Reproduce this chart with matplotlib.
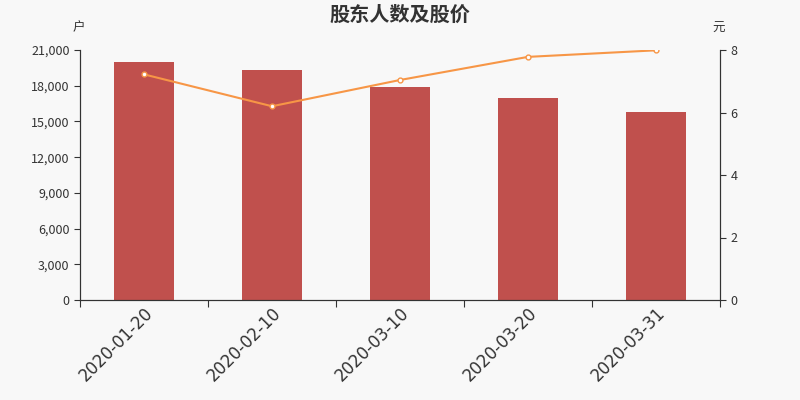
import matplotlib
matplotlib.use("Agg")
import matplotlib.pyplot as plt
import numpy as np
from matplotlib.ticker import FuncFormatter

plt.rcParams['font.family'] = ['Noto Sans CJK SC', 'DejaVu Sans']

dates = ["2020-01-20", "2020-02-10", "2020-03-10", "2020-03-20", "2020-03-31"]
holders = [19950, 19290, 17890, 16940, 15820]
price = [7.22, 6.20, 7.04, 7.78, 7.99]

bg = '#f8f8f8'
text_c = '#333333'

fig = plt.figure(figsize=(8, 4), dpi=100, facecolor=bg)
ax = fig.add_axes([0.1, 0.25, 0.8, 0.625])
ax.set_facecolor(bg)
ax2 = ax.twinx()

x = np.arange(len(dates))
ax.bar(x, holders, width=0.47, color='#c0504d', zorder=2)
ax.set_xlim(-0.5, len(dates) - 0.5)
ax.set_ylim(0, 21000)
ax.set_yticks(np.arange(0, 21001, 3000))
ax.yaxis.set_major_formatter(FuncFormatter(lambda v, p: f"{int(v):,}"))

# ticks sit between the bars, labels at bar centres
ax.set_xticks(np.arange(-0.5, len(dates), 1.0))
ax.set_xticklabels([])
ax.set_xticks(x, minor=True)
ax.set_xticklabels(dates, minor=True, rotation=45, ha='right',
                   rotation_mode='anchor', fontsize=12, color=text_c,
                   family='DejaVu Sans')
ax.tick_params(axis='x', which='minor', length=0, pad=3)
ax.tick_params(axis='x', which='major', length=5, color=text_c)
ax.tick_params(axis='y', labelsize=9, colors=text_c, length=4)

ax2.plot(x, price, color='#f79646', lw=1.5, marker='o', ms=3.5,
         mfc='white', mec='#f79646', mew=1, zorder=3)
ax2.set_ylim(0, 8)
ax2.set_yticks([0, 2, 4, 6, 8])
ax2.tick_params(axis='y', labelsize=9, colors=text_c, length=4)

for a in (ax, ax2):
    a.spines['top'].set_visible(False)
    for s in ('left', 'right', 'bottom'):
        a.spines[s].set_color(text_c)

fig.text(0.5, 0.965, "股东人数及股价", ha='center', va='center',
         fontsize=14.5, fontweight='bold', color=text_c)
fig.text(0.098, 0.93, "户", ha='center', va='center', fontsize=9, color=text_c)
fig.text(0.898, 0.93, "元", ha='center', va='center', fontsize=9, color=text_c)

fig.savefig("out.png", dpi=100, facecolor=bg)
